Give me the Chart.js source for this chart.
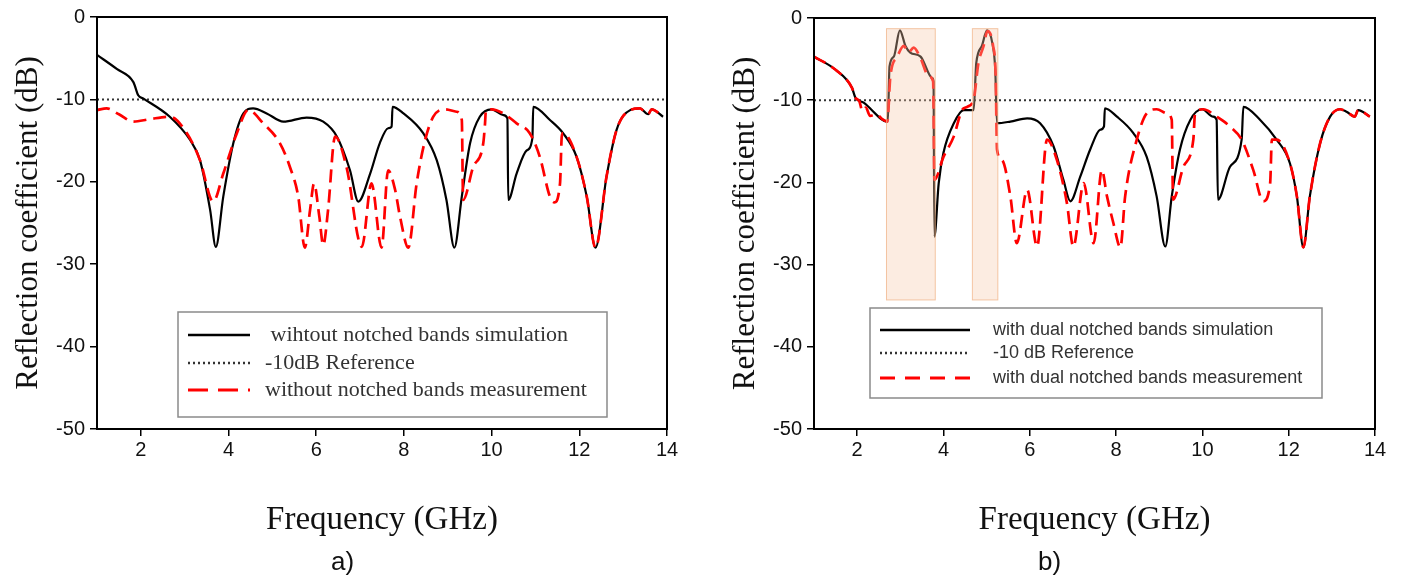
<!DOCTYPE html>
<html>
<head>
<meta charset="utf-8">
<script src="https://cdn.jsdelivr.net/npm/chart.js@4.4.1/dist/chart.umd.min.js"></script>
<style>
  html, body { margin: 0; padding: 0; background: #fff; }
  body { width: 1408px; height: 587px; position: relative; overflow: hidden; }
  canvas { position: absolute; top: 0; }
  #chartA { left: 0; }
  #chartB { left: 704px; }
  .sub { position: absolute; top: 546px; font-family: 'Liberation Sans', Arial, sans-serif; font-size: 26px; color: #111; }
</style>
</head>
<body>
<canvas id="chartA" width="704" height="587"></canvas>
<canvas id="chartB" width="704" height="587"></canvas>
<div class="sub" style="left:331px">a)</div>
<div class="sub" style="left:1038px">b)</div>
<script>
// axis ticks
const freqTicks = [2, 4, 6, 8, 10, 12, 14];
const refFreq = [1, 14];
const refDb = [-10, -10];

// a) without notched bands - simulation
const simAFreq = [1.0, 1.45, 1.83, 1.94, 2.06, 2.66, 3.12, 3.35, 3.58, 3.71, 3.88, 4.11, 4.34, 4.56, 4.87, 5.25, 5.78, 6.16, 6.47, 6.77, 6.96, 7.23, 7.45, 7.64, 7.72, 7.74, 7.99, 8.44, 8.75, 8.97, 9.15, 9.32, 9.51, 9.73, 10.0, 10.27, 10.36, 10.38, 10.57, 10.8, 10.93, 10.95, 11.33, 11.63, 11.94, 12.17, 12.37, 12.62, 12.85, 13.16, 13.38, 13.57, 13.65, 13.91];
const simADb = [-4.6, -6.3, -7.9, -9.5, -9.9, -12.1, -14.9, -17.4, -23.4, -27.9, -21.8, -15.3, -11.7, -11.1, -11.7, -12.7, -12.2, -12.7, -14.5, -18.6, -22.4, -19.0, -15.3, -13.5, -13.3, -10.9, -11.7, -14.1, -17.4, -22.2, -28.0, -21.8, -15.3, -12.1, -11.2, -11.9, -12.3, -22.2, -19.0, -16.2, -14.7, -10.9, -12.5, -14.1, -17.0, -21.8, -28.0, -19.4, -13.7, -11.3, -11.1, -11.8, -11.2, -12.1];

// a) without notched bands - measurement
const measAFreq = [1.0, 1.22, 1.5, 1.83, 2.2, 2.66, 3.05, 3.35, 3.65, 3.88, 4.19, 4.45, 4.79, 5.17, 5.4, 5.59, 5.74, 5.86, 5.95, 6.07, 6.16, 6.27, 6.43, 6.69, 7.04, 7.26, 7.49, 7.64, 7.8, 7.91, 8.1, 8.29, 8.48, 8.67, 8.94, 9.2, 9.32, 9.35, 9.58, 9.81, 9.85, 9.87, 10.0, 10.27, 10.57, 10.87, 11.1, 11.33, 11.43, 11.56, 11.6, 11.63, 11.94, 12.17, 12.37, 12.62, 12.85, 13.16, 13.38, 13.57, 13.65, 13.91];
const measADb = [-11.3, -11.1, -11.8, -12.7, -12.4, -12.1, -14.1, -17.4, -22.4, -19.0, -14.1, -11.3, -12.9, -15.3, -18.2, -21.8, -28.0, -23.4, -20.2, -24.2, -27.7, -23.4, -14.5, -18.2, -27.9, -20.2, -28.0, -18.6, -21.0, -24.2, -28.0, -20.2, -15.0, -12.1, -11.2, -11.5, -12.5, -22.2, -18.2, -15.3, -12.9, -11.3, -11.2, -11.7, -12.9, -14.1, -17.0, -21.8, -22.5, -20.2, -14.5, -14.1, -17.0, -21.8, -28.0, -19.4, -13.7, -11.3, -11.1, -11.8, -11.2, -12.1];

// b) with dual notched bands - simulation
const simBFreq = [1.0, 1.5, 1.88, 1.96, 2.15, 2.71, 2.75, 2.85, 2.99, 3.12, 3.23, 3.47, 3.74, 3.77, 3.79, 3.89, 4.0, 4.24, 4.47, 4.7, 4.76, 4.89, 5.01, 5.13, 5.2, 5.24, 5.55, 5.94, 6.24, 6.55, 6.78, 6.94, 7.17, 7.4, 7.63, 7.72, 7.74, 8.02, 8.4, 8.71, 8.94, 9.14, 9.29, 9.48, 9.72, 9.99, 10.25, 10.33, 10.36, 10.64, 10.91, 10.95, 11.34, 11.72, 12.03, 12.19, 12.34, 12.49, 12.73, 12.96, 13.19, 13.34, 13.53, 13.61, 13.88];
const simBDb = [-4.7, -6.3, -8.5, -9.7, -10.3, -12.6, -5.9, -4.7, -1.5, -3.4, -4.2, -4.7, -7.3, -7.7, -26.6, -20.1, -16.4, -12.8, -11.2, -11.2, -5.5, -3.4, -1.5, -3.0, -6.3, -12.8, -12.6, -12.2, -12.8, -15.6, -19.7, -22.3, -19.3, -16.0, -13.6, -13.2, -11.0, -12.0, -14.0, -16.9, -21.7, -27.8, -21.7, -16.0, -12.4, -11.1, -12.0, -12.4, -22.1, -18.1, -14.8, -10.8, -12.4, -14.8, -17.7, -21.7, -27.9, -21.7, -15.2, -12.0, -11.1, -11.4, -12.0, -11.2, -12.0];

// b) with dual notched bands - measurement
const measBFreq = [1.0, 1.5, 1.88, 1.96, 2.05, 2.12, 2.2, 2.3, 2.45, 2.58, 2.7, 2.77, 2.93, 3.08, 3.19, 3.31, 3.47, 3.66, 3.76, 3.79, 4.0, 4.24, 4.43, 4.55, 4.7, 4.81, 4.93, 5.02, 5.15, 5.21, 5.24, 5.36, 5.55, 5.7, 5.94, 6.17, 6.4, 6.63, 6.86, 7.01, 7.25, 7.48, 7.67, 7.79, 7.94, 8.1, 8.21, 8.48, 8.71, 8.94, 9.18, 9.29, 9.32, 9.56, 9.79, 9.83, 10.02, 10.33, 10.64, 10.91, 11.18, 11.41, 11.57, 11.61, 11.72, 12.03, 12.19, 12.34, 12.49, 12.73, 12.96, 13.19, 13.34, 13.53, 13.61, 13.88];
const measBDb = [-4.7, -6.3, -8.5, -9.7, -10.1, -11.3, -10.9, -11.9, -11.7, -12.3, -12.6, -7.1, -4.7, -3.4, -4.2, -3.6, -4.9, -7.1, -7.7, -19.7, -16.9, -14.4, -11.2, -10.8, -9.9, -5.5, -3.4, -1.6, -3.4, -7.1, -16.0, -17.3, -21.7, -27.4, -20.9, -27.8, -14.8, -17.3, -22.5, -27.8, -20.1, -27.4, -18.5, -21.7, -25.0, -27.9, -21.7, -14.8, -11.6, -11.1, -11.6, -12.4, -22.1, -18.1, -14.8, -11.6, -11.1, -12.0, -13.2, -14.8, -18.5, -22.3, -20.1, -14.8, -14.8, -17.7, -21.7, -27.9, -21.7, -15.2, -12.0, -11.1, -11.4, -12.0, -11.2, -12.0];

// notched bands shaded in b)
const bandStart = [2.68, 4.67];
const bandEnd = [3.81, 5.26];
const bandTop = -1.3;
const bandBottom = -34.3;

function toPoints(xs, ys) {
    return xs.map((x, i) => ({ x: x, y: ys[i] }));
}

// box round the plot area
const frameBox = {
    id: 'frameBox',
    afterDraw(chart) {
        const { ctx, chartArea: a } = chart;
        ctx.save();
        ctx.strokeStyle = '#000';
        ctx.lineWidth = 2;
        ctx.strokeRect(a.left, a.top, a.right - a.left, a.bottom - a.top);
        ctx.restore();
    }
};

// translucent notch rectangles, drawn over the curves
const bandBox = {
    id: 'bandBox',
    afterDatasetsDraw(chart, args, opts) {
        if (!opts.show) return;
        const { ctx, scales: { x, y } } = chart;
        ctx.save();
        bandStart.forEach((s, i) => {
            const x0 = x.getPixelForValue(s);
            const x1 = x.getPixelForValue(bandEnd[i]);
            const y0 = y.getPixelForValue(bandTop);
            const y1 = y.getPixelForValue(bandBottom);
            ctx.fillStyle = 'rgba(245, 200, 170, 0.35)';
            ctx.fillRect(x0, y0, x1 - x0, y1 - y0);
            ctx.strokeStyle = 'rgba(240, 175, 130, 0.7)';
            ctx.lineWidth = 1;
            ctx.strokeRect(x0, y0, x1 - x0, y1 - y0);
        });
        ctx.restore();
    }
};

// legend box inside the plot
const legendBox = {
    id: 'legendBox',
    afterDraw(chart, args, o) {
        const ctx = chart.ctx;
        ctx.save();
        ctx.strokeStyle = '#8a8a8a';
        ctx.lineWidth = 1.5;
        ctx.strokeRect(o.x, o.y, o.w, o.h);
        chart.data.datasets.forEach((ds, i) => {
            const ry = o.rows[i];
            ctx.beginPath();
            ctx.setLineDash(o.dashes[i]);
            ctx.strokeStyle = ds.borderColor;
            ctx.lineWidth = ds.borderWidth + 0.5;
            ctx.moveTo(o.lineX0, ry);
            ctx.lineTo(o.lineX1, ry);
            ctx.stroke();
            ctx.setLineDash([]);
            ctx.fillStyle = '#333';
            ctx.font = o.font;
            ctx.textBaseline = 'middle';
            ctx.fillText(ds.label, o.textX, ry);
        });
        ctx.restore();
    }
};

function makeDatasets(labels, simF, simD, measF, measD) {
    return [
        {
            label: labels[0],
            data: toPoints(simF, simD),
            borderColor: '#000',
            borderWidth: 2.2,
            pointRadius: 0,
            cubicInterpolationMode: 'monotone',
            order: 2
        },
        {
            label: labels[1],
            data: toPoints(refFreq, refDb),
            borderColor: '#333',
            borderWidth: 2,
            borderDash: [2, 3],
            pointRadius: 0,
            order: 3
        },
        {
            label: labels[2],
            data: toPoints(measF, measD),
            borderColor: '#ff0000',
            borderWidth: 2.7,
            borderDash: [13, 7],
            pointRadius: 0,
            cubicInterpolationMode: 'monotone',
            order: 1
        }
    ];
}

function makeScales(yAxisWidth, yTitlePad) {
    return {
        x: {
            type: 'linear',
            min: 1,
            max: 14,
            afterBuildTicks: axis => { axis.ticks = freqTicks.map(v => ({ value: v })); },
            afterFit: axis => { axis.height = 158; },
            grid: { drawOnChartArea: false, drawTicks: true, tickLength: 7, color: '#000', lineWidth: 1.5 },
            border: { display: true, color: '#000', width: 2 },
            ticks: { color: '#111', font: { family: 'Liberation Sans', size: 20 }, padding: 2 },
            title: {
                display: true,
                text: 'Frequency (GHz)',
                color: '#111',
                font: { family: 'Liberation Serif', size: 33 },
                padding: { top: 0, bottom: 47 }
            }
        },
        y: {
            type: 'linear',
            min: -50,
            max: 0,
            afterFit: axis => { axis.width = yAxisWidth; },
            grid: { drawOnChartArea: false, drawTicks: true, tickLength: 7, color: '#000', lineWidth: 1.5 },
            border: { display: true, color: '#000', width: 2 },
            ticks: { stepSize: 10, color: '#111', font: { family: 'Liberation Sans', size: 20 }, padding: 5 },
            title: {
                display: true,
                text: 'Reflection coefficient (dB)',
                color: '#111',
                font: { family: 'Liberation Serif', size: 31 },
                padding: { top: yTitlePad, bottom: 0 }
            }
        }
    };
}

new Chart(document.getElementById('chartA'), {
    type: 'line',
    data: {
        datasets: makeDatasets(
            [' wihtout notched bands simulation', '-10dB Reference', 'without notched bands measurement'],
            simAFreq, simADb, measAFreq, measADb)
    },
    options: {
        responsive: false,
        animation: false,
        layout: { padding: { top: 17, right: 37, bottom: 0, left: 0 } },
        scales: makeScales(97, 10),
        plugins: {
            legend: { display: false },
            tooltip: { enabled: false },
            bandBox: { show: false },
            legendBox: {
                x: 178, y: 312, w: 429, h: 105,
                rows: [335, 363, 390],
                dashes: [[], [2, 3], [20, 10]],
                lineX0: 188, lineX1: 250, textX: 265,
                font: '22px "Liberation Serif"'
            }
        }
    },
    plugins: [bandBox, frameBox, legendBox]
});

new Chart(document.getElementById('chartB'), {
    type: 'line',
    data: {
        datasets: makeDatasets(
            ['with dual notched bands simulation', '-10 dB Reference', 'with dual notched bands measurement'],
            simBFreq, simBDb, measBFreq, measBDb)
    },
    options: {
        responsive: false,
        animation: false,
        layout: { padding: { top: 18, right: 33, bottom: 0, left: 0 } },
        scales: makeScales(110, 23),
        plugins: {
            legend: { display: false },
            tooltip: { enabled: false },
            bandBox: { show: true },
            legendBox: {
                x: 166, y: 308, w: 452, h: 90,
                rows: [330, 353, 378],
                dashes: [[], [2, 3], [15, 10]],
                lineX0: 176, lineX1: 266, textX: 289,
                font: '18px "Liberation Sans"'
            }
        }
    },
    plugins: [bandBox, frameBox, legendBox]
});
</script>
</body>
</html>
